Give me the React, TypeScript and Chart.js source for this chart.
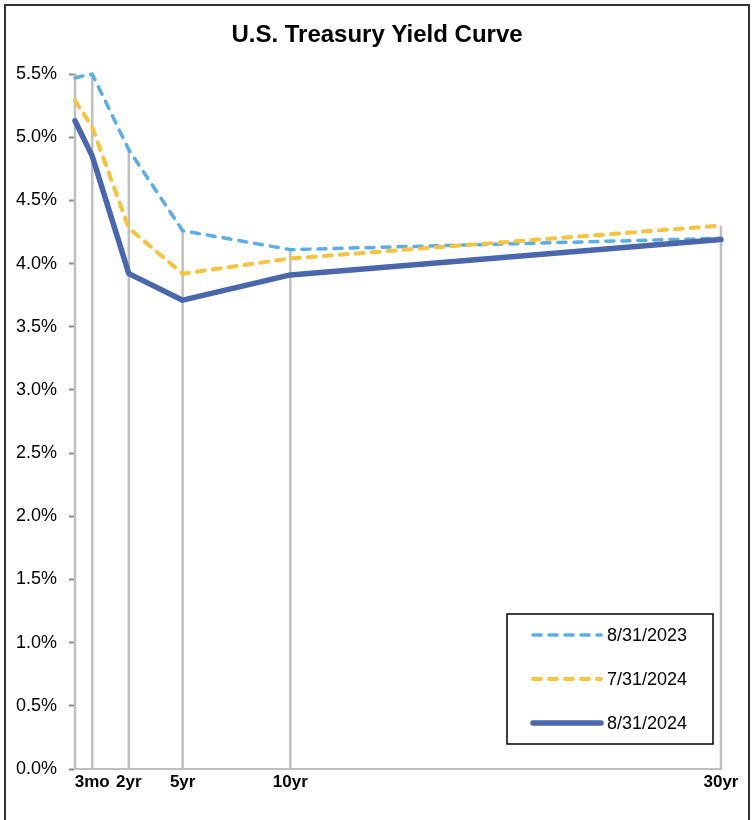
import React, { useEffect, useRef } from 'react';
import { Chart, registerables } from 'chart.js';

Chart.register(...registerables);

// ---- data ----
const chartTitle = 'U.S. Treasury Yield Curve';
const seriesLabels = ['8/31/2023', '7/31/2024', '8/31/2024'];
// horizontal placement of each maturity point on the chart's x axis (axis runs 0..30)
const xPositions = [0, 0.8, 2.5, 5, 10, 30];
const xTickLabels = ['', '3mo', '2yr', '5yr', '10yr', '30yr'];
const yields2023Aug = [5.47, 5.5, 4.9, 4.26, 4.11, 4.2];
const yields2024Jul = [5.29, 5.08, 4.28, 3.92, 4.04, 4.3];
const yields2024Aug = [5.13, 4.85, 3.92, 3.71, 3.91, 4.19];
const yMin = 0;
const yMax = 5.5;
const yStep = 0.5;

const FONT = '"Liberation Sans", Arial, sans-serif';

const seriesStyles = [
  { color: '#5BADE3', width: 3.5, dash: [8, 8] },
  { color: '#F5C340', width: 4, dash: [8, 8] },
  { color: '#4A66AC', width: 5.5, dash: [] as number[] },
];
const seriesValues = [yields2023Aug, yields2024Jul, yields2024Aug];

const dropLinesPlugin = {
  id: 'dropLines',
  beforeDatasetsDraw(chart: any) {
    const { ctx, scales } = chart;
    const x = scales.x;
    const y = scales.y;
    ctx.save();
    ctx.strokeStyle = '#BFBFBF';
    ctx.lineWidth = 2.5;
    xPositions.forEach((pos, i) => {
      const maxV = Math.max(...chart.data.datasets.map((d: any) => d.data[i].y));
      const px = x.getPixelForValue(pos);
      ctx.beginPath();
      ctx.moveTo(px, y.getPixelForValue(maxV));
      ctx.lineTo(px, y.getPixelForValue(0));
      ctx.stroke();
    });
    ctx.restore();
  },
};

const boxLegendPlugin = {
  id: 'boxLegend',
  afterDraw(chart: any) {
    const { ctx, chartArea } = chart;
    const w = 206;
    const h = 130;
    const right = chartArea.right - 8;
    const bottom = chartArea.bottom - 25;
    const left = right - w;
    const top = bottom - h;
    ctx.save();
    ctx.fillStyle = '#ffffff';
    ctx.fillRect(left, top, w, h);
    ctx.strokeStyle = '#000000';
    ctx.lineWidth = 1.5;
    ctx.strokeRect(left, top, w, h);
    chart.data.datasets.forEach((ds: any, i: number) => {
      const yy = top + 21 + i * 44;
      ctx.beginPath();
      ctx.strokeStyle = ds.borderColor;
      ctx.lineWidth = ds.borderWidth;
      ctx.lineCap = 'round';
      ctx.setLineDash(ds.borderDash || []);
      ctx.moveTo(left + 26, yy);
      ctx.lineTo(left + 94, yy);
      ctx.stroke();
      ctx.setLineDash([]);
      ctx.fillStyle = '#000000';
      ctx.font = `18px ${FONT}`;
      ctx.textAlign = 'left';
      ctx.textBaseline = 'middle';
      ctx.fillText(ds.label, left + 100, yy + 1);
    });
    ctx.restore();
  },
};

export default function App() {
  const canvasRef = useRef<HTMLCanvasElement | null>(null);

  useEffect(() => {
    if (!canvasRef.current) return;
    const datasets = seriesLabels.map((label, s) => ({
      label,
      data: xPositions.map((xp, i) => ({ x: xp, y: seriesValues[s][i] })),
      borderColor: seriesStyles[s].color,
      backgroundColor: seriesStyles[s].color,
      borderWidth: seriesStyles[s].width,
      borderDash: seriesStyles[s].dash,
      borderCapStyle: 'round' as const,
      borderJoinStyle: 'round' as const,
      pointRadius: 0,
      tension: 0,
      fill: false,
      clip: false as any,
      order: 2 - s,
    }));

    const chart = new Chart(canvasRef.current, {
      type: 'line',
      data: { datasets },
      plugins: [dropLinesPlugin, boxLegendPlugin],
      options: {
        responsive: false,
        animation: false,
        devicePixelRatio: 1,
        layout: { padding: { top: 0, left: 4, right: 4, bottom: 0 } },
        plugins: {
          legend: { display: false },
          tooltip: { enabled: false },
          title: {
            display: true,
            text: chartTitle,
            color: '#000000',
            font: { family: FONT, size: 24, weight: 'bold', lineHeight: 1.2 },
            padding: { top: 21, bottom: 24.2 },
          },
        },
        scales: {
          x: {
            type: 'linear',
            min: 0,
            max: 30,
            offset: false,
            afterBuildTicks: (s: any) => {
              s.ticks = xPositions.slice(1).map((v) => ({ value: v }));
            },
            afterFit: (s: any) => {
              s.height = 51;
              s.paddingLeft = 0;
              s.paddingRight = 0;
            },
            ticks: {
              autoSkip: false,
              maxRotation: 0,
              minRotation: 0,
              padding: 3,
              color: '#000000',
              font: { family: FONT, size: 17, weight: 'bold' },
              callback: (v: any) => {
                const idx = xPositions.indexOf(Number(v));
                return idx >= 0 ? xTickLabels[idx] : '';
              },
            },
            grid: { display: false, drawTicks: false },
            border: { display: true, color: '#BFBFBF', width: 2 },
          },
          y: {
            min: yMin,
            max: yMax,
            afterFit: (s: any) => {
              s.width = 71;
              s.paddingTop = 0;
              s.paddingBottom = 0;
            },
            ticks: {
              stepSize: yStep,
              padding: 12,
              color: '#000000',
              font: { family: FONT, size: 18 },
              callback: (v: any) => Number(v).toFixed(1) + '%',
            },
            grid: {
              display: true,
              drawOnChartArea: false,
              drawTicks: true,
              tickLength: 6,
              tickColor: '#8C8C8C',
              tickWidth: 2,
            },
            border: { display: true, color: '#BFBFBF', width: 2 },
          },
          yRightSpacer: {
            type: 'linear',
            position: 'right',
            display: true,
            min: yMin,
            max: yMax,
            afterFit: (s: any) => {
              s.width = 29;
              s.paddingTop = 0;
              s.paddingBottom = 0;
            },
            ticks: { display: false },
            grid: { display: false, drawTicks: false },
            border: { display: false },
          },
        },
      } as any,
    });
    return () => chart.destroy();
  }, []);

  return (
    <div
      style={{
        position: 'absolute',
        left: 0,
        top: 0,
        width: 754,
        height: 820,
        overflow: 'hidden',
        background: '#ffffff',
      }}
    >
      <div
        style={{
          position: 'absolute',
          left: 4,
          top: 4,
          width: 742,
          height: 900,
          border: '2px solid #333333',
        }}
      />
      <canvas
        ref={canvasRef}
        width={754}
        height={820}
        style={{ position: 'absolute', left: 0, top: 0, width: 754, height: 820 }}
      />
    </div>
  );
}
